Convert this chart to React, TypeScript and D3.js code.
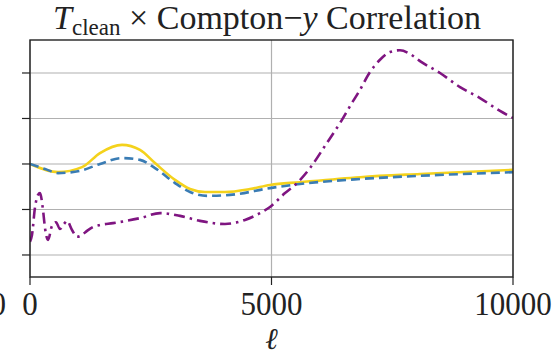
import React from "react";
import * as d3 from "d3";

const W = 558;
const H = 357;
const M = { left: 30, right: 513, top: 40, bottom: 277 };

const xTicks = [0, 5000, 10000];
const yTicks = [0, 1, 2, 3, 4];

const ellYellow = [0, 580, 1077, 1449, 1905, 2277, 2588, 3002, 3313, 3623, 4037, 4555, 4969, 5590, 6832, 8075, 10000];
const valYellow = [2.0, 1.82, 1.93, 2.24, 2.42, 2.31, 2.02, 1.65, 1.45, 1.385, 1.385, 1.45, 1.54, 1.6, 1.71, 1.78, 1.87];

const ellBlue = [0, 311, 580, 1035, 1449, 1905, 2277, 2588, 3002, 3313, 3665, 4141, 4969, 5590, 6832, 8075, 10000];
const valBlue = [2.0, 1.89, 1.8, 1.85, 2.0, 2.13, 2.09, 1.91, 1.58, 1.385, 1.3, 1.32, 1.47, 1.56, 1.67, 1.74, 1.82];

const ellPurple = [0, 41, 104, 166, 207, 269, 311, 373, 455, 538, 621, 704, 766, 870, 973, 1077, 1180, 1304, 1449, 1718, 2277, 2692, 3106, 3520, 4037, 4451, 4762, 4969, 5280, 5528, 5797, 6108, 6418, 6625, 6832, 7039, 7246, 7453, 7660, 7867, 8075, 8489, 8903, 9317, 9731, 10000];
const valPurple = [0.29, 0.44, 1.05, 1.32, 1.36, 0.99, 0.59, 0.33, 0.64, 0.72, 0.57, 0.68, 0.75, 0.55, 0.4, 0.44, 0.53, 0.615, 0.66, 0.7, 0.81, 0.92, 0.86, 0.75, 0.68, 0.77, 0.92, 1.055, 1.36, 1.58, 1.91, 2.4, 2.9, 3.27, 3.63, 4.02, 4.29, 4.46, 4.5, 4.42, 4.26, 4.0, 3.69, 3.45, 3.165, 3.01];

const serifStyle = { fontFamily: "\"Liberation Serif\", \"DejaVu Serif\", \"Times New Roman\", serif" };

export default function App() {
  const x = d3.scaleLinear().domain([0, 10000]).range([M.left, M.right]);
  const y = d3.scaleLinear().domain([-0.484, 4.725]).range([M.bottom, M.top]);
  const line = d3
    .line<[number, number]>()
    .x((d) => x(d[0]))
    .y((d) => y(d[1]))
    .curve(d3.curveMonotoneX);
  const zip = (a: number[], b: number[]) => a.map((v, i) => [v, b[i]] as [number, number]);
  return (
    <svg width={W} height={H} style={{ position: "absolute", left: 0, top: 0 }}>
      <rect width={W} height={H} fill="#fff" />
      <defs>
        <clipPath id="plot">
          <rect x={M.left} y={M.top} width={M.right - M.left} height={M.bottom - M.top} />
        </clipPath>
      </defs>
      {yTicks.map((t) => (
        <line key={"gy" + t} x1={M.left} x2={M.right} y1={y(t)} y2={y(t)} stroke="#b0b0b0" strokeWidth={1.2} />
      ))}
      {xTicks.map((t) => (
        <line key={"gx" + t} x1={x(t)} x2={x(t)} y1={M.top} y2={M.bottom} stroke="#b0b0b0" strokeWidth={1.2} />
      ))}
      <g clipPath="url(#plot)" fill="none" strokeWidth={2.6}>
        <path d={line(zip(ellYellow, valYellow)) || ""} stroke="#f4d21c" />
        <path d={line(zip(ellBlue, valBlue)) || ""} stroke="#3a7cb4" strokeDasharray="9,5" />
        <path d={line(zip(ellPurple, valPurple)) || ""} stroke="#7f1581" strokeDasharray="11,5,2.5,5" />
      </g>
      <rect x={M.left} y={M.top} width={M.right - M.left} height={M.bottom - M.top} fill="none" stroke="#222" strokeWidth={1.4} />
      {yTicks.map((t) => (
        <line key={"ty" + t} x1={M.left - 8} x2={M.left} y1={y(t)} y2={y(t)} stroke="#222" strokeWidth={1.2} />
      ))}
      {xTicks.map((t) => (
        <g key={"tx" + t}>
          <line x1={x(t)} x2={x(t)} y1={M.bottom} y2={M.bottom + 8} stroke="#222" strokeWidth={1.2} />
          <g transform={`translate(${x(t)},315) scale(1,1.12)`}>
            <text x={0} y={0} textAnchor="middle" style={serifStyle} fontSize={31} fill="#222">
              {t}
            </text>
          </g>
        </g>
      ))}
      <g transform="translate(6,315) scale(1,1.12)">
        <text x={0} y={0} textAnchor="end" style={serifStyle} fontSize={31} fill="#222">0</text>
      </g>
      <text x={x(5000)} y={349} textAnchor="middle" style={serifStyle} fontSize={30} fontStyle="italic" fill="#222">ℓ</text>
      <text x={267} y={29} textAnchor="middle" style={serifStyle} fontSize={34} fill="#222">
        <tspan fontStyle="italic">T</tspan>
        <tspan fontSize={23} dy={6}>clean</tspan>
        <tspan dy={-6}> × Compton−</tspan>
        <tspan fontStyle="italic">y</tspan>
        <tspan> Correlation</tspan>
      </text>
    </svg>
  );
}
